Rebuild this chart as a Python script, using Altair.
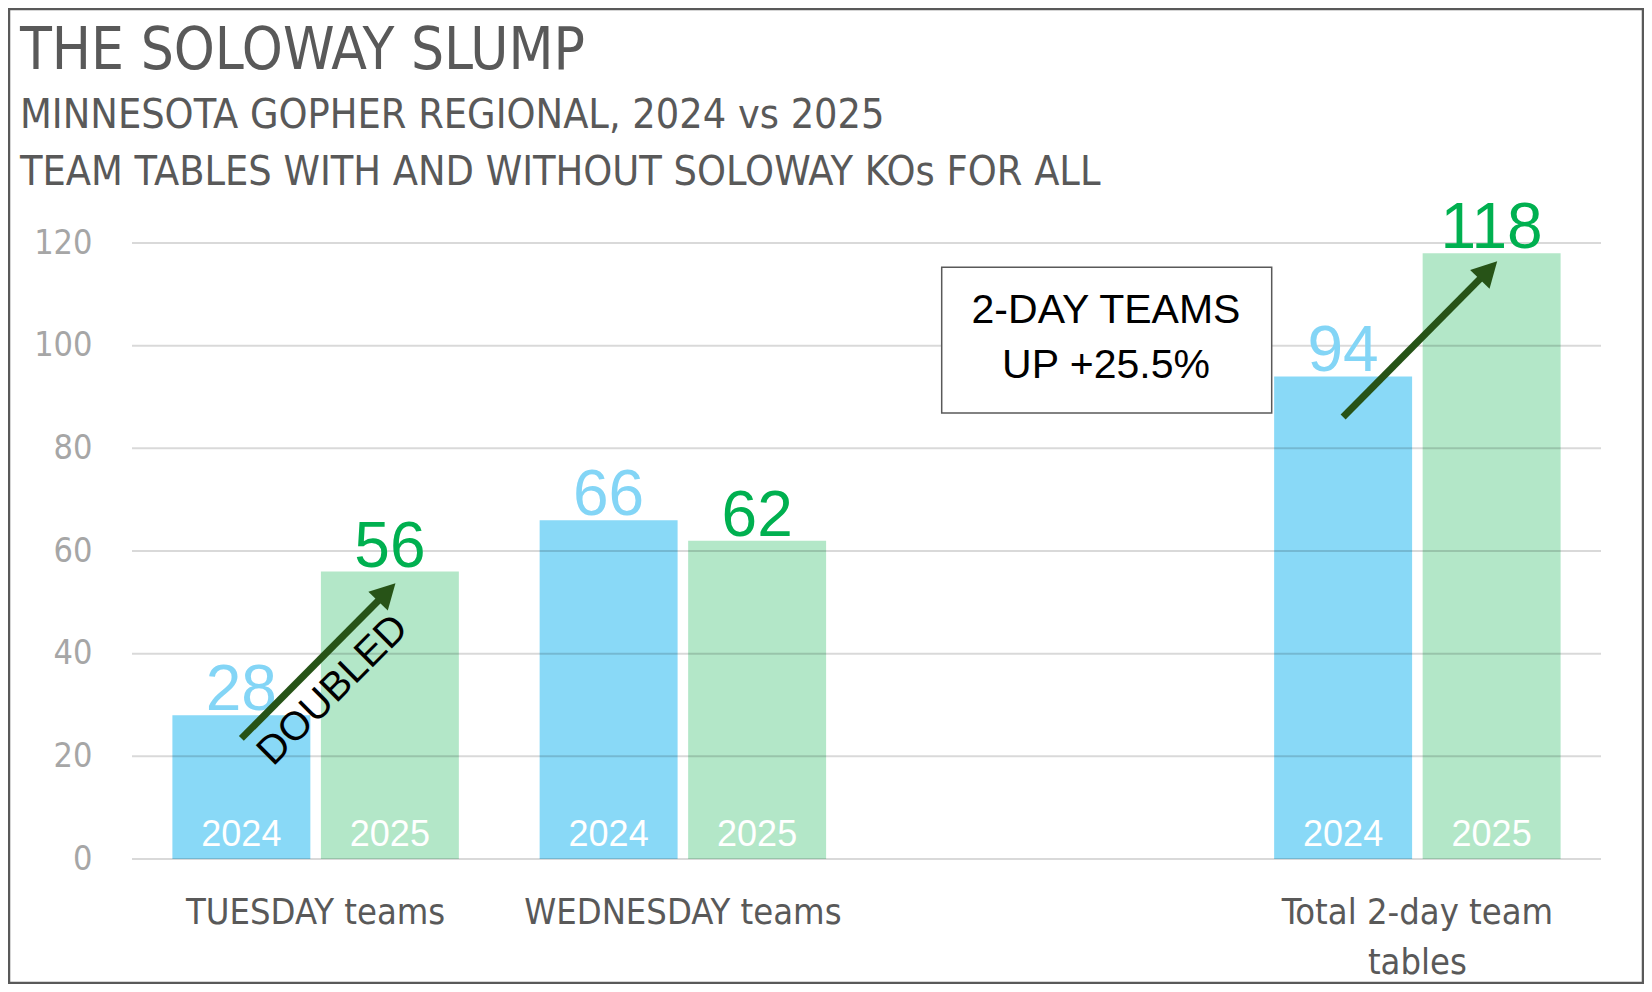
import altair as alt
import pandas as pd

# ---------------- data ----------------
categories = ["TUESDAY teams", "WEDNESDAY teams", "Total 2-day team tables"]
axis_categories = ["TUESDAY teams", "WEDNESDAY teams", " ", "Total 2-day team tables"]
years = ["2024", "2025"]
teams_2024 = [28, 66, 94]
teams_2025 = [56, 62, 118]
y_ticks = [0, 20, 40, 60, 80, 100, 120]

arrow_categories = ["TUESDAY teams", "Total 2-day team tables"]
arrow_from = [23.5, 86.1]
arrow_to = [52.6, 115.3]

title_text = "THE SOLOWAY SLUMP"
subtitle_lines = ["MINNESOTA GOPHER REGIONAL, 2024 vs 2025",
                  "TEAM TABLES WITH AND WITHOUT SOLOWAY KOs FOR ALL"]
box_lines = ["2-DAY TEAMS", "UP +25.5%"]
doubled_text = "DOUBLED"

# ---------------- tables ----------------
rows = []
for c, a, b in zip(categories, teams_2024, teams_2025):
    rows.append({"category": c, "year": years[0], "teams": a})
    rows.append({"category": c, "year": years[1], "teams": b})
bars_df = pd.DataFrame(rows)

arrow_rows = []
for i, (c, s, e) in enumerate(zip(arrow_categories, arrow_from, arrow_to)):
    arrow_rows.append({"arrow": i, "category": c, "year": years[0], "v": s})
    arrow_rows.append({"arrow": i, "category": c, "year": years[1], "v": e})
arrow_df = pd.DataFrame(arrow_rows)
head_df = arrow_df[arrow_df["year"] == years[1]]
grid_df = pd.DataFrame({"v": y_ticks})
one_df = pd.DataFrame({"k": [0]})

COND = "DejaVu Sans Condensed, Liberation Sans Narrow, sans-serif"
SANS = "Liberation Sans, Arial, sans-serif"

x_scale = alt.Scale(domain=axis_categories, paddingInner=0, paddingOuter=0)
x_axis = alt.Axis(
    title=None, labelAngle=0, domain=False, ticks=False, grid=False,
    labelFont=COND, labelFontSize=36, labelColor="#595959", labelPadding=36,
    labelLimit=0, labelLineHeight=50,
    labelExpr="datum.value == 'Total 2-day team tables' ? ['Total 2-day team', 'tables'] : datum.label",
)
y_scale = alt.Scale(domain=[0, 120], nice=False, zero=True)
y_axis = alt.Axis(
    title=None, values=y_ticks, grid=False, domain=False, ticks=False,
    labelFont=COND, labelFontSize=34, labelColor="#A6A6A6", labelPadding=40,
)
xo_scale = alt.Scale(domain=years, paddingInner=0.071, paddingOuter=0.272)

X = alt.X("category:N", scale=x_scale, axis=x_axis)
XO = alt.XOffset("year:N", scale=xo_scale)

bars = alt.Chart(bars_df).mark_bar().encode(
    x=X, xOffset=XO,
    y=alt.Y("teams:Q", scale=y_scale, axis=y_axis),
    color=alt.Color("year:N", scale=alt.Scale(domain=years, range=["#89D9F7", "#B3E7C8"]), legend=None),
)

grid = alt.Chart(grid_df).mark_rule(color="#000000", opacity=0.15, strokeWidth=2).encode(
    y=alt.Y("v:Q", scale=y_scale, axis=y_axis)
)

value_labels = alt.Chart(bars_df).mark_text(
    baseline="alphabetic", dy=-5, fontSize=64, font=SANS
).encode(
    x=X, xOffset=XO,
    y=alt.Y("teams:Q", scale=y_scale, axis=y_axis),
    text=alt.Text("teams:Q"),
    color=alt.Color("year:N", scale=alt.Scale(domain=years, range=["#83D5F6", "#00B050"]), legend=None),
)

year_labels = alt.Chart(bars_df).mark_text(
    baseline="alphabetic", dy=-13, fontSize=36, font=SANS, color="#FFFFFF"
).encode(
    x=X, xOffset=XO,
    y=alt.datum(0, type="quantitative", scale=y_scale, axis=y_axis),
    text="year:N",
)

arrow_lines = alt.Chart(arrow_df).mark_line(
    color="#275317", strokeWidth=7, strokeCap="butt"
).encode(
    x=X, xOffset=XO,
    y=alt.Y("v:Q", scale=y_scale, axis=y_axis),
    detail="arrow:N",
)

arrow_heads = alt.Chart(head_df).mark_point(
    shape="M0,-0.32 L0.54,0.68 L-0.54,0.68 Z", filled=True, size=2500,
    angle=44, color="#275317", opacity=1,
).encode(
    x=X, xOffset=XO,
    y=alt.Y("v:Q", scale=y_scale, axis=y_axis),
)

doubled = alt.Chart(one_df).mark_text(
    angle=315, fontSize=40, font=SANS, color="#000000", align="center", baseline="middle"
).encode(
    x=alt.value(201),
    y=alt.datum(32.9, type="quantitative", scale=y_scale, axis=y_axis),
    text=alt.value(doubled_text),
)

box = alt.Chart(one_df).mark_rect(
    fill="#FFFFFF", stroke="#595959", strokeWidth=1.5
).encode(
    x=alt.value(809.7), x2=alt.value(1139.7),
    y=alt.datum(115.3, type="quantitative", scale=y_scale, axis=y_axis),
    y2=alt.datum(86.9),
)

box_text = alt.Chart(one_df).mark_text(
    fontSize=41, font=SANS, color="#000000", align="center",
    baseline="alphabetic", lineHeight=55,
).encode(
    x=alt.value(974),
    y=alt.datum(104.4, type="quantitative", scale=y_scale, axis=y_axis),
    text=alt.value(box_lines),
)

title_mark = alt.Chart(one_df).mark_text(
    fontSize=58, font=COND, color="#595959", align="left", baseline="alphabetic"
).encode(x=alt.value(-112), y=alt.value(-174), text=alt.value(title_text))

subtitle_mark = alt.Chart(one_df).mark_text(
    fontSize=41, font=COND, color="#595959", align="left", baseline="alphabetic",
    lineHeight=57,
).encode(x=alt.value(-112), y=alt.value(-115), text=alt.value(subtitle_lines))

frame = alt.Chart(one_df).mark_rect(
    fillOpacity=0, stroke="#595959", strokeWidth=2.5
).encode(
    x=alt.value(-123), x2=alt.value(1511),
    y=alt.value(-234), y2=alt.value(740),
)

chart = alt.layer(
    bars, grid, value_labels, year_labels, arrow_lines, arrow_heads,
    doubled, box, box_text, title_mark, subtitle_mark, frame,
).resolve_scale(color="independent").properties(
    width=1469, height=616,
    padding={"left": 124, "top": 235, "right": 43, "bottom": 125},
    autosize=alt.AutoSizeParams(type="none"),
    background="#FFFFFF",
).configure_view(stroke=None)

chart.save("out.html", embed_options={"renderer": "svg", "actions": False})
